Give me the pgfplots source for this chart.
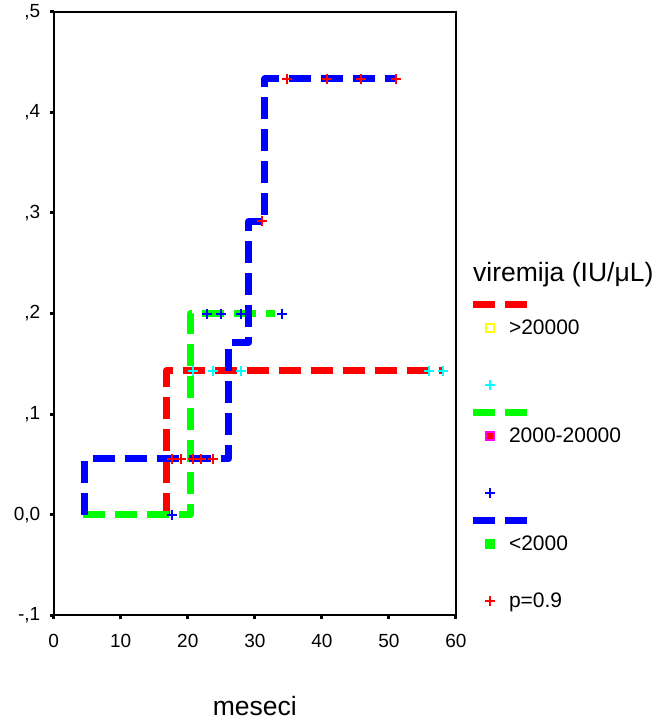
\documentclass[border=0pt]{standalone}
\usepackage{fontspec}
\setmainfont{Liberation Sans}
\usepackage{pgfplots}
\pgfplotsset{compat=1.18}
\definecolor{cRed}{RGB}{255,0,0}
\definecolor{cGreen}{RGB}{0,255,0}
\definecolor{cBlue}{RGB}{0,0,255}
\definecolor{cCyan}{RGB}{0,255,255}
\definecolor{cYellow}{RGB}{255,255,0}
\definecolor{cMag}{RGB}{255,0,255}
\pgfplotsset{
  dashimg/.style={legend image code/.code={
      \path[draw=none,fill=none] (0bp,-11.5bp) rectangle (36bp,14bp);
      \draw[overlay,line width=7bp,solid] (0bp,0bp) -- (22bp,0bp) (32bp,0bp) -- (54bp,0bp);}},
  sqimg/.style={legend image code/.code={
      \path[draw=none,fill=none] (0bp,-14bp) rectangle (36bp,11.5bp);
      \draw plot coordinates {(17bp,0bp)};}},
  plusimg/.style={legend image code/.code={
      \path[draw=none,fill=none] (0bp,-14bp) rectangle (36bp,14bp);
      \draw plot coordinates {(17bp,0bp)};}},
  blankimg/.style={legend image code/.code={
      \path[draw=none,fill=none] (0bp,-14.5bp) rectangle (36bp,14.5bp);}},
  curve/.style={line width=7bp, dash pattern=on 22bp off 10bp, line join=round},
  cens/.style={only marks, mark=+, mark size=5bp, line width=2bp, mark options={solid}},
}
\begin{document}
\begin{tikzpicture}
\path[use as bounding box] (0,0) rectangle (662bp,722bp);
\begin{axis}[
  at={(53.7bp,106.7bp)}, anchor=south west,
  scale only axis, width=402.3bp, height=603.5bp,
  xmin=0, xmax=60, ymin=-0.1, ymax=0.5,
  xtick={0,10,20,30,40,50,60},
  ytick={-0.1,0,0.1,0.2,0.3,0.4,0.5},
  yticklabels={{-,1},{0,0},{,1},{,2},{,3},{,4},{,5}},
  /pgf/number format/assume math mode=true,
  tick label style={font=\fontsize{19bp}{22bp}\selectfont},
  xticklabel style={yshift=-11bp},
  yticklabel style={xshift=-6bp},
  tick align=outside, xtick pos=bottom, ytick pos=left,
  major tick length=4bp,
  tick style={line width=3bp, black},
  axis line style={line width=1.6bp},
  xlabel={meseci},
  xlabel style={font=\fontsize{26.5bp}{30bp}\selectfont, at={(axis description cs:0.5,0)}, anchor=base, yshift=-100bp},
  clip=false,
  legend cell align=left,
  legend style={draw=none, fill=none, inner sep=0pt, outer sep=0pt,
    row sep=0pt, column sep=0pt,
    font=\fontsize{21bp}{24bp}\selectfont,
    nodes={inner sep=0pt},
    at={(axis description cs:1.0423,0.5374)}, anchor=north west},
]
% survival step curves (1 - survival)
\addplot[curve, cRed, forget plot] coordinates {(16.8,0) (16.8,0.1429) (58.0,0.1429)};
\addplot[curve, cGreen, forget plot] coordinates {(4.4,0) (20.4,0) (20.4,0.2) (33.0,0.2)};
\addplot[curve, cBlue, forget plot] coordinates {(4.6,0) (4.6,0.0556) (26.1,0.0556) (26.1,0.1714) (29.1,0.1714) (29.1,0.2917) (31.5,0.2917) (31.5,0.4333) (51.2,0.4333)};
% censored marks
\addplot[cens, cCyan, forget plot] coordinates {(20.8,0.1429) (23.8,0.1429) (28.0,0.1429) (56.0,0.1429) (58.0,0.1429)};
\addplot[cens, cBlue, forget plot] coordinates {(17.6,0) (22.8,0.2) (25.0,0.2) (28.0,0.2) (34.1,0.2)};
\addplot[cens, cRed, forget plot] coordinates {(17.6,0.0556) (19.0,0.0556) (20.8,0.0556) (22.0,0.0556) (23.8,0.0556) (31.0,0.2917) (34.8,0.4333) (40.8,0.4333) (45.9,0.4333) (51.0,0.4333)};
% legend
\addlegendimage{dashimg, cRed}
\addlegendentry{}
\addlegendimage{sqimg, only marks, mark=square, mark size=4bp, mark options={draw=cYellow, fill=white, line width=1.5bp}}
\addlegendentry{>20000}
\addlegendimage{blankimg}
\addlegendentry{}
\addlegendimage{plusimg, only marks, mark=+, mark size=5bp, cCyan, line width=2bp}
\addlegendentry{}
\addlegendimage{dashimg, cGreen}
\addlegendentry{}
\addlegendimage{sqimg, only marks, mark=square*, mark size=4bp, mark options={draw=cMag, fill=cRed, line width=1.5bp}}
\addlegendentry{2000-20000}
\addlegendimage{blankimg}
\addlegendentry{}
\addlegendimage{plusimg, only marks, mark=+, mark size=5bp, cBlue, line width=2bp}
\addlegendentry{}
\addlegendimage{dashimg, cBlue}
\addlegendentry{}
\addlegendimage{sqimg, only marks, mark=square*, mark size=4.5bp, mark options={draw=cGreen, fill=cGreen}}
\addlegendentry{<2000}
\addlegendimage{blankimg}
\addlegendentry{}
\addlegendimage{plusimg, only marks, mark=+, mark size=5bp, cRed, line width=2bp}
\addlegendentry{p=0.9}
\node[anchor=base west, inner sep=0pt, font=\fontsize{26.5bp}{30bp}\selectfont] at (axis description cs:1.0423,0.5523) {viremija (IU/μL)};
\end{axis}
\end{tikzpicture}
\end{document}
